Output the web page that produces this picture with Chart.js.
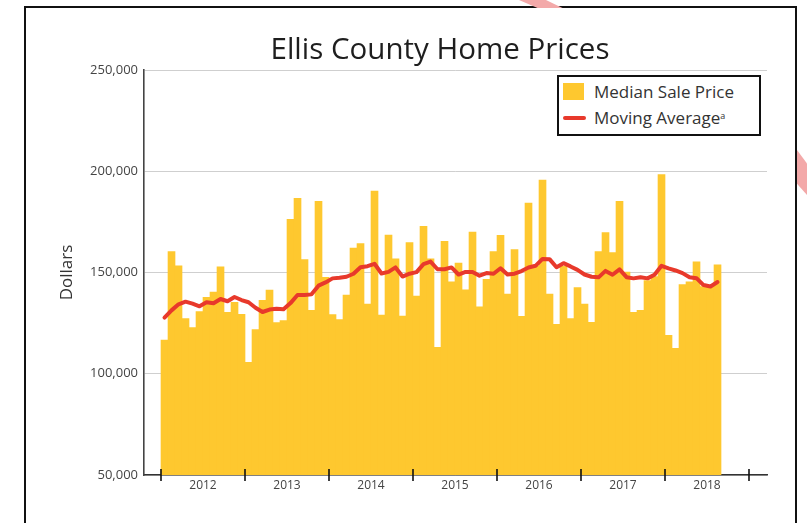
<!DOCTYPE html>
<html>
<head>
<meta charset="utf-8">
<script src="https://cdn.jsdelivr.net/npm/chart.js@4.4.1/dist/chart.umd.min.js"></script>
<style>
html,body{margin:0;padding:0;background:#fff;}
#wrap{position:relative;width:807px;height:523px;overflow:hidden;font-family:'Open Sans',sans-serif;background:#fff;}
#frame{position:absolute;left:24px;top:6px;width:773px;height:600px;border:2px solid #111;box-sizing:border-box;}
.art{position:absolute;background:#f3a9a9;}
#art1{left:515px;top:0;width:50px;height:8px;clip-path:polygon(8% 0,62% 0,95% 100%,45% 100%);}
#art2{left:797px;top:150px;width:10px;height:45px;clip-path:polygon(0 0,100% 30%,100% 100%,0 75%);}
#chart{position:absolute;left:0;top:0;}
#title{position:absolute;left:240px;width:400px;top:29px;text-align:center;font-size:29.5px;color:#1e1e1e;line-height:38px;white-space:nowrap;}
#legend{position:absolute;left:557px;top:75px;width:204px;height:61px;border:2px solid #111;box-sizing:border-box;background:#fff;}
.lg-sq{position:absolute;left:563px;top:83px;width:21px;height:17px;background:#FEC82F;}
.lg-ln{position:absolute;left:563px;top:116px;width:23px;height:4px;background:#E8392B;border-radius:2px;}
.lg-tx{position:absolute;left:594px;font-size:17px;color:#333;line-height:22px;white-space:nowrap;}
.lg-tx sup{font-size:9px;vertical-align:top;position:relative;top:-2px;}
</style>
</head>
<body>
<div id="wrap">
  <div id="frame"></div>
  <div class="art" id="art1"></div>
  <div class="art" id="art2"></div>
  <canvas id="chart" width="807" height="523"></canvas>
  <div id="title">Ellis County Home Prices</div>
  <div id="legend"></div>
  <div class="lg-sq"></div>
  <div class="lg-tx" style="top:81px;">Median Sale Price</div>
  <div class="lg-ln"></div>
  <div class="lg-tx" style="top:107px;">Moving Average<sup>a</sup></div>
</div>
<script>
const years = ['2012','2013','2014','2015','2016','2017','2018'];
const yTicks = [50000,100000,150000,200000,250000];
const medianSalePrice = [
  116600,160300,153300,127200,122800,130700,137700,140300,152800,130300,135300,129400,
  105600,121800,136200,141300,125300,126200,176200,186600,156400,131300,185200,147600,
  129200,126700,138900,162100,164300,134400,190200,129000,168500,156700,128500,164800,
  138400,172800,156700,113000,165400,145400,154600,141500,170000,133000,146600,160300,
  168400,139400,161300,128400,184300,153000,195600,139400,124400,153000,127200,142500,
  134400,125400,160300,169700,159800,185200,150200,130300,131300,146000,148000,198400,
  119000,112600,144000,145400,155300,143000,143000,153800
];
const movingAverage = [
  127700,131300,134300,135600,134600,133300,135300,134800,136900,135800,137900,136400,
  135300,132600,130500,131700,132100,131800,134900,138900,138900,139200,143500,145100,
  147100,147400,147900,149400,152600,153100,154300,149500,150300,152500,148000,149400,
  150200,154100,155400,151600,151600,152500,149000,150300,150300,148400,149700,149400,
  152100,149000,149400,150700,152500,153300,156700,156600,152600,154600,153000,151300,
  149000,147900,147600,150800,148900,151500,147700,147100,147700,147100,148900,153300,
  152000,151000,149700,147700,147200,143800,143100,145300
];

const GOLD = '#FEC82F';
const RED = '#E8392B';
const FONT = "'Open Sans', sans-serif";

const barPts = medianSalePrice.map((v, i) => ({x: i + 0.5, y: v}));
const linePts = movingAverage.map((v, i) => ({x: i + 0.5, y: v}));
const boundaries = [];
for (let k = 0; k <= years.length; k++) boundaries.push(k * 12);
const xTickVals = [];
for (let k = 0; k <= years.length * 2; k++) xTickVals.push(k * 6);

const yearTicks = {
  id: 'yearTicks',
  afterDraw(chart) {
    const xs = chart.scales.x;
    const ctx = chart.ctx;
    const b = chart.chartArea.bottom;
    ctx.save();
    ctx.strokeStyle = '#111';
    ctx.lineWidth = 1.6;
    for (const v of boundaries) {
      const px = Math.round(xs.getPixelForValue(v));
      ctx.beginPath();
      ctx.moveTo(px, b - 6);
      ctx.lineTo(px, b + 6);
      ctx.stroke();
    }
    ctx.restore();
  }
};

new Chart(document.getElementById('chart'), {
  type: 'bar',
  data: {
    datasets: [
      {type: 'line', label: 'Moving Average', data: linePts, borderColor: RED, backgroundColor: RED,
       borderWidth: 4, pointRadius: 0, tension: 0, borderJoinStyle: 'round', borderCapStyle: 'round', order: 0},
      {type: 'bar', label: 'Median Sale Price', data: barPts, backgroundColor: GOLD, borderWidth: 0,
       barPercentage: 1, categoryPercentage: 1, order: 1}
    ]
  },
  options: {
    responsive: false,
    animation: false,
    layout: {padding: {left: 57, right: 40, top: 70, bottom: 18}},
    plugins: {legend: {display: false}, title: {display: false}, tooltip: {enabled: false}},
    scales: {
      x: {
        type: 'linear', min: -2.43, max: 86.57, offset: false, bounds: 'ticks',
        afterFit(s) { s.height = 30; },
        afterBuildTicks(s) { s.ticks = xTickVals.map(v => ({value: v})); },
        grid: {display: false, drawTicks: false, offset: false},
        border: {display: true, color: '#333', width: 1.6},
        ticks: {
          autoSkip: false, maxRotation: 0, padding: 3, color: '#444',
          font: {family: FONT, size: 12},
          callback: (v) => (v % 12 === 6 ? years[(v - 6) / 12] : '')
        }
      },
      y: {
        min: 50000, max: 250000,
        afterFit(s) { s.width = 87; },
        afterBuildTicks(s) { s.ticks = yTicks.map(v => ({value: v})); },
        grid: {color: '#cfcfcf', lineWidth: 1, drawTicks: false},
        border: {display: true, color: '#444', width: 1.6},
        ticks: {padding: 6, color: '#444', font: {family: FONT, size: 13},
          callback: (v) => v.toLocaleString('en-US')},
        title: {display: true, text: 'Dollars', color: '#333', font: {family: FONT, size: 17}, padding: 0}
      }
    }
  },
  plugins: [yearTicks]
});
</script>
</body>
</html>
